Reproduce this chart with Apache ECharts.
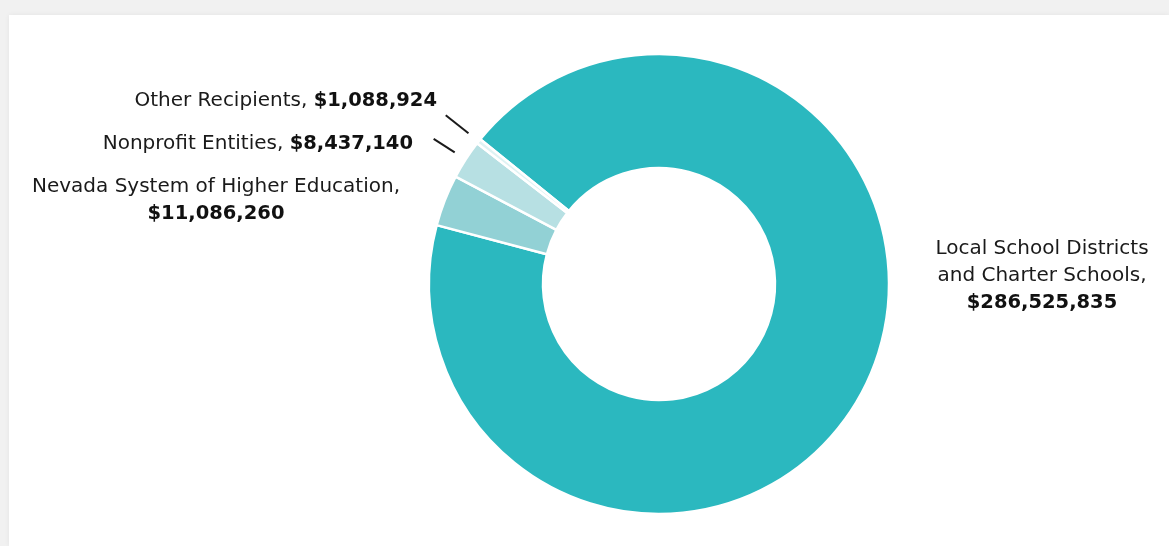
<!DOCTYPE html>
<html><head><meta charset="utf-8">
<script src="https://cdn.jsdelivr.net/npm/echarts@6/dist/echarts.min.js"></script>
<style>
html,body{margin:0;padding:0;width:1169px;height:546px;overflow:hidden;background:#f1f1f1;}
#card{position:absolute;left:9px;top:15px;right:0;bottom:0;background:#fff;box-shadow:0 0 5px rgba(0,0,0,0.06);}
#chart{position:absolute;left:0;top:0;width:1169px;height:546px;}
</style></head>
<body><div id="card"></div><div id="chart"></div>
<script>
// ---- data ----
const categories = ['Local School Districts and Charter Schools', 'Nevada System of Higher Education', 'Nonprofit Entities', 'Other Recipients'];
const labelNames = ['Local School Districts\nand Charter Schools,', 'Nevada System of Higher Education,', 'Nonprofit Entities,', 'Other Recipients,'];
const labelBreak = ['\n', '\n', ' ', ' '];
const values = [286525835, 11086260, 8437140, 1088924];
const colors = ['#2bb8bf', '#92d1d5', '#b7e0e3', '#def2f3'];

// ---- layout ----
const CX = 659, CY = 284, R_IN = 116, R_OUT = 230, START = 141;
const labelPos = [
  {x: 1042, y: 276, align: 'center'},
  {x: 216, y: 200, align: 'center'},
  {x: 413, y: 143.5, align: 'right'},
  {x: 437, y: 101, align: 'right'}
];
const showLine = [false, false, true, true];
const lineSpan = [null, null, [13, 38], [13, 42]];

const total = values.reduce((a, b) => a + b, 0);
function midAngle(i) {
  let before = 0;
  for (let j = 0; j < i; j++) before += values[j];
  return (START - (before + values[i] / 2) / total * 360) * Math.PI / 180;
}
function fmt(v) { return '$' + v.toLocaleString('en-US'); }

const chart = echarts.init(document.getElementById('chart'), null, {renderer: 'canvas'});
chart.setOption({
  animation: false,
  series: [{
    type: 'pie',
    center: [CX, CY],
    radius: [R_IN, R_OUT],
    startAngle: START,
    clockwise: true,
    avoidLabelOverlap: false,
    emphasis: {disabled: true},
    itemStyle: {borderColor: '#ffffff', borderWidth: 2.5},
    label: {
      show: true,
      position: 'outside',
      fontFamily: 'DejaVu Sans',
      fontSize: 20,
      color: '#1a1a1a',
      lineHeight: 27,
      formatter: function (p) {
        return labelNames[p.dataIndex] + labelBreak[p.dataIndex] + '{b|' + fmt(p.value) + '}';
      },
      rich: {
        b: {fontFamily: 'DejaVu Sans', fontWeight: 'bold', fontSize: 19.5, color: '#111111', lineHeight: 27}
      }
    },
    labelLine: {show: true, length: 30, length2: 0, lineStyle: {color: '#1a1a1a', width: 2}},
    labelLayout: function (params) {
      const i = params.dataIndex;
      const lp = labelPos[i];
      const out = {x: lp.x, y: lp.y, align: lp.align, verticalAlign: 'middle'};
      if (showLine[i]) {
        const a = midAngle(i);
        const r1 = R_OUT + lineSpan[i][0], r2 = R_OUT + lineSpan[i][1];
        out.labelLinePoints = [
          [CX + Math.cos(a) * r1, CY - Math.sin(a) * r1],
          [CX + Math.cos(a) * r2, CY - Math.sin(a) * r2]
        ];
      }
      return out;
    },
    data: categories.map((c, i) => ({
      name: c,
      value: values[i],
      itemStyle: {color: colors[i]},
      labelLine: {show: showLine[i]}
    }))
  }]
});
</script>
</body></html>
